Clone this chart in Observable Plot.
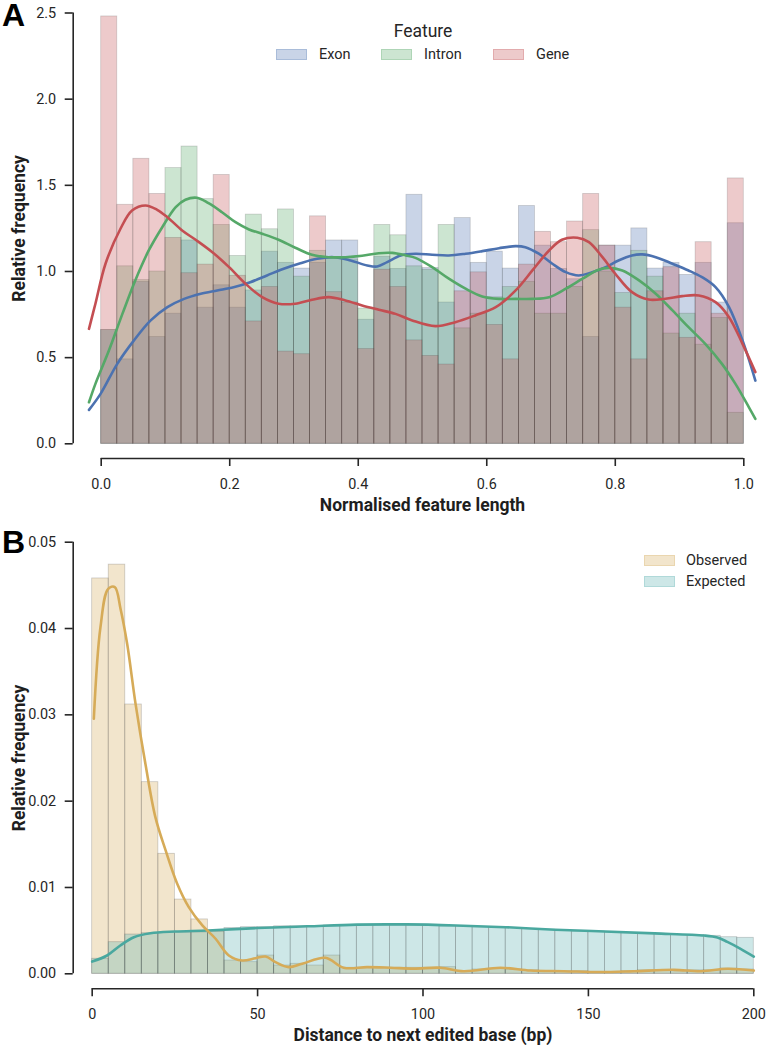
<!DOCTYPE html>
<html><head><meta charset="utf-8">
<script src="https://cdn.jsdelivr.net/npm/d3@7"></script>
<script src="https://cdn.jsdelivr.net/npm/@observablehq/plot@0.6"></script>
<style>
body{margin:0;background:#fff;font-family:Roboto,sans-serif;}
#wrap{position:relative;width:766px;height:1045px;overflow:hidden;}
.lt{position:absolute;color:#262626;white-space:nowrap;line-height:1;transform:translateY(-50%);}
.sw{position:absolute;box-sizing:border-box;}
</style></head><body><div id="wrap"></div>
<script>
// ---------- Panel A data ----------
const features = ["Exon", "Intron", "Gene"];
const featureColors = ["#4c72b0", "#55a868", "#c44e52"];
const binCountA = 40;
const xTicksA = [0, 0.2, 0.4, 0.6, 0.8, 1.0];
const yTicksA = [0, 0.5, 1.0, 1.5, 2.0, 2.5];
const xDomainA = [-0.04357, 1.02085];
const yDomainA = [-0.0853, 2.5];

const exonA = [0.66,0.49,0.94,0.62,0.755,1.18,0.79,0.92,0.79,0.89,1.115,1.05,1.017,1.05,1.18,1.18,0.72,1.085,1.015,1.445,1.02,0.82,1.31,1.05,1.115,1.017,1.38,1.15,1.015,0.955,0.62,1.15,1.15,1.25,1.017,1.05,0.98,1.05,0.82,1.28];
const intronA = [0.66,1.03,0.95,1.0,1.60,1.725,1.42,1.27,1.09,1.33,1.245,1.36,0.97,1.12,1.08,1.07,0.785,1.27,1.21,1.03,1.01,1.27,0.67,0.755,0.85,0.91,0.94,0.755,0.755,0.91,1.24,1.0,0.875,1.12,0.97,0.64,0.755,0.575,0.73,0.18];
const geneA = [2.48,1.387,1.654,1.45,1.195,0.99,1.04,1.56,0.975,0.71,0.91,0.535,0.52,1.32,0.88,0.82,0.55,1.01,0.91,0.6,0.51,0.46,0.885,0.995,0.69,0.49,1.04,1.23,1.17,1.29,1.45,1.15,0.79,0.49,0.885,1.025,0.615,1.17,0.755,1.54];

const exonKdeX = [-0.019,-0.001,0.025,0.051,0.077,0.103,0.129,0.155,0.1805,0.206,0.232,0.258,0.284,0.310,0.336,0.362,0.388,0.414,0.4295,0.445,0.466,0.489,0.515,0.541,0.567,0.593,0.619,0.645,0.660,0.681,0.702,0.723,0.743,0.764,0.785,0.805,0.826,0.842,0.863,0.889,0.914,0.935,0.956,0.977,0.998,1.018];
const exonKdeY = [0.197,0.29,0.464,0.6,0.716,0.793,0.841,0.871,0.89,0.909,0.938,0.977,1.016,1.048,1.074,1.083,1.064,1.035,1.029,1.054,1.093,1.103,1.097,1.093,1.103,1.118,1.135,1.147,1.141,1.103,1.045,0.996,0.977,0.996,1.025,1.064,1.093,1.099,1.083,1.045,1.006,0.967,0.909,0.793,0.6,0.367];
const intronKdeX = [-0.019,-0.009,0.012,0.033,0.053,0.074,0.095,0.116,0.131,0.149,0.167,0.188,0.209,0.230,0.2505,0.276,0.302,0.328,0.354,0.380,0.406,0.432,0.453,0.474,0.489,0.515,0.541,0.567,0.593,0.619,0.645,0.671,0.697,0.723,0.749,0.774,0.790,0.811,0.837,0.863,0.889,0.914,0.940,0.966,0.987,1.008,1.018];
const intronKdeY = [0.241,0.348,0.541,0.754,0.948,1.122,1.257,1.373,1.416,1.428,1.396,1.344,1.286,1.244,1.219,1.184,1.138,1.097,1.083,1.083,1.091,1.106,1.108,1.093,1.079,1.025,0.958,0.9,0.855,0.841,0.841,0.841,0.851,0.9,0.958,1.01,1.021,1.006,0.948,0.871,0.774,0.677,0.580,0.464,0.348,0.212,0.145];
const geneKdeX = [-0.019,-0.009,0.0067,0.030,0.048,0.069,0.087,0.103,0.126,0.147,0.173,0.199,0.2245,0.2505,0.276,0.302,0.328,0.354,0.380,0.406,0.432,0.458,0.484,0.520,0.551,0.582,0.614,0.645,0.671,0.697,0.717,0.741,0.759,0.780,0.800,0.826,0.852,0.878,0.904,0.930,0.956,0.977,0.998,1.018];
const geneKdeY = [0.667,0.813,1.045,1.248,1.354,1.383,1.358,1.315,1.238,1.184,1.112,1.025,0.929,0.851,0.813,0.813,0.836,0.851,0.832,0.803,0.778,0.754,0.716,0.683,0.706,0.745,0.793,0.89,1.006,1.122,1.184,1.196,1.170,1.083,0.987,0.88,0.837,0.842,0.857,0.861,0.822,0.735,0.580,0.416];

// ---------- Panel B data ----------
const seriesB = ["Observed", "Expected"];
const seriesBColors = ["#d4aa57", "#5aafae"];
const seriesBLine = ["#d6ab58", "#4aa89f"];
const binWidthB = 5;
const xTicksB = [0, 50, 100, 150, 200];
const yTicksB = [0, 0.01, 0.02, 0.03, 0.04, 0.05];
const xDomainB = [-5.74, 200];
const yDomainB = [-0.001738, 0.05];

const observedB = [0.0458,0.0474,0.0312,0.0222,0.0139,0.0086,0.0063,0.0049,0.00154,0.00135,0.00212,0.00096,0.00116,0.00096,0.00212,0.0007,0.0007,0.0007,0.0007,0.0007,0.0007,0.00077,0.0003,0.0005,0.0006,0.0005,0.0004,0.0003,0.0003,0.0003,0.0002,0.0002,0.0003,0.0004,0.0004,0.0003,0.0004,0.0004,0.0006,0.0005];
const expectedB = [0.00174,0.00366,0.00455,0.0047,0.0048,0.0048,0.0048,0.0049,0.0053,0.0054,0.0054,0.0055,0.0055,0.0055,0.0056,0.0056,0.0056,0.0056,0.0056,0.0056,0.0056,0.0055,0.0055,0.0054,0.0054,0.0053,0.0052,0.0051,0.005,0.0049,0.0049,0.0048,0.0047,0.0047,0.0046,0.0045,0.0045,0.0044,0.00424,0.00417];

const obsKdeX = [0.5,2.5,4.84,6.83,8.56,10.58,13.1,16.1,19.1,22.2,25.7,29.2,33.3,37.3,41.3,45.3,49.4,52.4,55.4,59.4,63.5,70.5,76,83.1,90.2,97.2,105.3,112.3,123.4,132.5,142.6,153.7,163.8,175.9,184,192,200];
const obsKdeY = [0.02954,0.04016,0.0446,0.0448,0.0423,0.0382,0.0313,0.0243,0.01815,0.01429,0.01043,0.00772,0.0056,0.00406,0.00212,0.00154,0.00181,0.002,0.00135,0.00077,0.00116,0.00185,0.0007,0.00077,0.0007,0.0006,0.0007,0.0003,0.0007,0.00038,0.0003,0.0002,0.0003,0.00046,0.0003,0.00058,0.00038];
const expKdeX = [0,4.5,8.5,12.6,17.6,25,35,50,65,80,95,110,125,140,155,170,185,189,192,196,200];
const expKdeY = [0.00142,0.00212,0.00328,0.00424,0.0047,0.0049,0.00502,0.0053,0.0055,0.0057,0.00572,0.0056,0.0054,0.0051,0.0049,0.00468,0.00443,0.0042,0.0037,0.0029,0.002];

// ---------- helpers ----------
const pts = (xs, ys) => xs.map((x, i) => ({x, y: ys[i]}));
function binRows(vals, width, start) {
  return vals.map((v, i) => ({x1: start + i * width, x2: start + (i + 1) * width, y1: 0, y2: v}));
}
const wrap = document.getElementById("wrap");
const axisColor = "#262626";
const baseStyle = {fontFamily: "Roboto, sans-serif", fontSize: "14.4px", color: axisColor, background: "transparent"};
const titleSize = 17.5;

// ---------- Panel A ----------
const seriesA = [exonA, intronA, geneA];
const kdeA = [pts(exonKdeX, exonKdeY), pts(intronKdeX, intronKdeY), pts(geneKdeX, geneKdeY)];
const barMarksA = seriesA.map((vals, k) => Plot.rect(binRows(vals, 1 / binCountA, 0), {
  x1: "x1", x2: "x2", y1: "y1", y2: "y2",
  fill: featureColors[k], fillOpacity: 0.3, stroke: "#3a3a3a", strokeOpacity: 0.22, strokeWidth: 0.8
}));
const lineMarksA = kdeA.map((d, k) => Plot.line(d, {x: "x", y: "y", stroke: featureColors[k], strokeWidth: 2.6, curve: "catmull-rom"}));

const plotA = Plot.plot({
  width: 766, height: 520,
  marginLeft: 72.7, marginRight: 9.3, marginTop: 12.5, marginBottom: 62,
  style: baseStyle,
  x: {domain: xDomainA},
  y: {domain: yDomainA},
  marks: [
    ...barMarksA,
    ...lineMarksA,
    Plot.ruleX([xDomainA[0]], {y1: yTicksA[0], y2: yTicksA[yTicksA.length - 1], stroke: axisColor, strokeWidth: 1.6}),
    Plot.ruleY([yDomainA[0]], {x1: xTicksA[0], x2: xTicksA[xTicksA.length - 1], stroke: axisColor, strokeWidth: 1.6}),
    Plot.axisX({ticks: xTicksA, tickFormat: d3.format(".1f"), tickSize: 8, tickPadding: 12, strokeWidth: 1.6, label: null}),
    Plot.axisY({ticks: yTicksA, tickFormat: d3.format(".1f"), tickSize: 8, tickPadding: 9, strokeWidth: 1.6, label: null}),
    Plot.text(["Normalised feature length"], {frameAnchor: "bottom", dx: 7.3, dy: 47, lineAnchor: "middle", fontWeight: "bold", fontSize: titleSize, fill: "#1e1e1e"}),
    Plot.text(["Relative frequency"], {frameAnchor: "left", rotate: -90, dx: -54.2, dy: -7.3, lineAnchor: "middle", textAnchor: "middle", fontWeight: "bold", fontSize: titleSize, fill: "#1e1e1e"}),
    Plot.text(["A"], {frameAnchor: "top-left", dx: -71.2, dy: -9.5, textAnchor: "start", lineAnchor: "top", fontWeight: "bold", fontSize: 32, fontFamily: "Liberation Sans, Arial, sans-serif", fill: "#000"})
  ]
});
plotA.style.display = "block";
wrap.appendChild(plotA);

// ---------- Panel B ----------
const seriesBVals = [observedB, expectedB];
const barMarksB = seriesBVals.map((vals, k) => Plot.rect(binRows(vals, binWidthB, 0), {
  x1: "x1", x2: "x2", y1: "y1", y2: "y2",
  fill: seriesBColors[k], fillOpacity: 0.3, stroke: "#3a3a3a", strokeOpacity: 0.25, strokeWidth: 0.8
}));
const kdeB = [pts(obsKdeX, obsKdeY), pts(expKdeX, expKdeY)];
const lineMarksB = [1, 0].map(k => Plot.line(kdeB[k], {x: "x", y: "y", stroke: seriesBLine[k], strokeWidth: 2.6, curve: "catmull-rom"}));

const plotB = Plot.plot({
  width: 766, height: 525,
  marginLeft: 72.7, marginRight: 12.7, marginTop: 21.7, marginBottom: 56.7,
  style: baseStyle,
  x: {domain: xDomainB},
  y: {domain: yDomainB},
  marks: [
    ...barMarksB,
    ...lineMarksB,
    Plot.ruleX([xDomainB[0]], {y1: yTicksB[0], y2: yTicksB[yTicksB.length - 1], stroke: axisColor, strokeWidth: 1.6}),
    Plot.ruleY([yDomainB[0]], {x1: xTicksB[0], x2: xTicksB[xTicksB.length - 1], stroke: axisColor, strokeWidth: 1.6}),
    Plot.axisX({ticks: xTicksB, tickFormat: d3.format("d"), tickSize: 8, tickPadding: 12, strokeWidth: 1.6, label: null}),
    Plot.axisY({ticks: yTicksB, tickFormat: d3.format(".2f"), tickSize: 8, tickPadding: 9, strokeWidth: 1.6, label: null}),
    Plot.text(["Distance to next edited base (bp)"], {frameAnchor: "bottom", dx: 9.5, dy: 46.7, lineAnchor: "middle", fontWeight: "bold", fontSize: titleSize, fill: "#1e1e1e"}),
    Plot.text(["Relative frequency"], {frameAnchor: "left", rotate: -90, dx: -54.2, dy: -7.5, lineAnchor: "middle", textAnchor: "middle", fontWeight: "bold", fontSize: titleSize, fill: "#1e1e1e"}),
    Plot.text(["B"], {frameAnchor: "top-left", dx: -71.2, dy: -11.7, textAnchor: "start", lineAnchor: "top", fontWeight: "bold", fontSize: 32, fontFamily: "Liberation Sans, Arial, sans-serif", fill: "#000"})
  ]
});
plotB.style.display = "block";
wrap.appendChild(plotB);

// ---------- Legends ----------
function rgba(hex, a) {
  const c = d3.rgb(hex); return `rgba(${c.r},${c.g},${c.b},${a})`;
}
function addText(txt, left, cy, size, center) {
  const d = document.createElement("div");
  d.className = "lt"; d.textContent = txt;
  d.style.left = left + "px"; d.style.top = cy + "px"; d.style.fontSize = size + "px";
  if (center) d.style.transform = "translate(-50%,-50%)";
  wrap.appendChild(d);
}
function addSwatch(color, left, top) {
  const s = document.createElement("div");
  s.className = "sw";
  s.style.left = left + "px"; s.style.top = top + "px";
  s.style.width = "31px"; s.style.height = "11px";
  s.style.background = rgba(color, 0.3);
  s.style.border = "1px solid " + rgba(color, 0.25);
  wrap.appendChild(s);
}
addText("Feature", 423, 32, 17.5, true);
const legAX = [276, 381, 493];
features.forEach((f, k) => { addSwatch(featureColors[k], legAX[k], 49.3); addText(f, legAX[k] + 43, 54.5, 14.5, false); });
const legBY = [555, 576];
seriesB.forEach((s, k) => { addSwatch(seriesBColors[k], 644, legBY[k]); addText(s, 686, legBY[k] + 5.5, 14.5, false); });
</script></body></html>
